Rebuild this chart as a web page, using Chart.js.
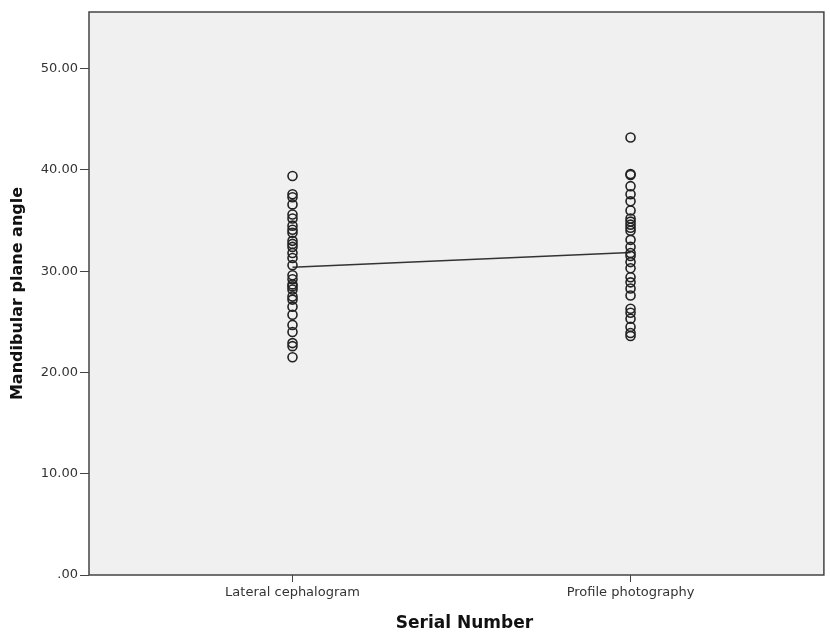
<!DOCTYPE html>
<html>
<head>
<meta charset="utf-8">
<script src="https://cdn.jsdelivr.net/npm/chart.js@4"></script>
<style>
  html, body { margin: 0; padding: 0; background: #ffffff; }
  #wrap { width: 830px; height: 633px; }
</style>
</head>
<body>
<div id="wrap"><canvas id="grafico"></canvas></div>
<script>
// categorias e valores
const categorias = ["Lateral cephalogram", "Profile photography"];
const cefalograma = [39.4, 37.6, 37.3, 36.6, 35.6, 35.2, 34.5, 34.1, 33.8, 33.0, 32.7, 32.4, 31.8, 31.3,
    30.6, 29.6, 29.2, 28.7, 28.5, 28.2, 27.5, 27.2, 26.5, 25.7, 24.7, 24.0, 22.9, 22.6, 21.5];
const fotografia = [43.2, 39.6, 39.5, 38.4, 37.6, 36.9, 36.0, 35.2, 34.9, 34.6, 34.3, 34.0, 33.1, 32.4,
    31.8, 31.5, 30.9, 30.3, 29.4, 28.9, 28.3, 27.6, 26.3, 25.9, 25.3, 24.5, 23.9, 23.6];
const medias = [30.4, 31.85];
const ticksY = [0, 10, 20, 30, 40, 50];
const tituloX = "Serial Number";

const fonte = "'DejaVu Sans', sans-serif";

// fundo cinza, moldura da área do gráfico e título do eixo x
const fundoPlugin = {
    id: "fundo",
    beforeDraw(chart) {
        const { ctx, chartArea: a } = chart;
        ctx.save();
        ctx.fillStyle = "#f0f0f0";
        ctx.fillRect(a.left, a.top, a.right - a.left, a.bottom - a.top);
        ctx.restore();
    },
    afterDraw(chart) {
        const { ctx, chartArea: a } = chart;
        ctx.save();
        ctx.strokeStyle = "#444";
        ctx.lineWidth = 1.5;
        ctx.strokeRect(a.left, a.top, a.right - a.left, a.bottom - a.top);
        // título do eixo x, um pouco à direita do centro como no original
        ctx.fillStyle = "#111";
        ctx.font = "bold 17px " + fonte;
        ctx.textAlign = "center";
        ctx.textBaseline = "middle";
        ctx.fillText(tituloX, (a.left + a.right) / 2 + 8, a.bottom + 49);
        ctx.restore();
    }
};

const pontos = [];
cefalograma.forEach(v => pontos.push({ x: 1, y: v }));
fotografia.forEach(v => pontos.push({ x: 2, y: v }));

const ctx = document.getElementById("grafico").getContext("2d");
new Chart(ctx, {
    type: "scatter",
    data: {
        datasets: [{
            data: medias.map((m, i) => ({ x: i + 1, y: m })),
            showLine: true,
            borderColor: "#333",
            borderWidth: 1.5,
            pointRadius: 0,
            order: 2
        }, {
            data: pontos,
            pointRadius: 4.5,
            pointBorderWidth: 1.6,
            pointBorderColor: "#222",
            pointBackgroundColor: "rgba(0,0,0,0)",
            order: 1
        }]
    },
    options: {
        responsive: true,
        maintainAspectRatio: false,
        animation: false,
        layout: { padding: { top: 12, right: 4, left: 8, bottom: 0 } },
        plugins: {
            legend: { display: false },
            tooltip: { enabled: false }
        },
        scales: {
            x: {
                type: "linear",
                min: 0.398,
                max: 2.572,
                afterBuildTicks(axis) { axis.ticks = [{ value: 1 }, { value: 2 }]; },
                afterFit(axis) { axis.height = 58; },
                grid: { drawOnChartArea: false, tickLength: 7, color: "#444", lineWidth: 1 },
                border: { display: false },
                ticks: {
                    callback: v => categorias[v - 1],
                    color: "#333",
                    font: { family: fonte, size: 13 },
                    padding: 3
                },
                title: { display: false }
            },
            y: {
                min: 0,
                max: 55.6,
                afterBuildTicks(axis) { axis.ticks = ticksY.map(v => ({ value: v })); },
                afterFit(axis) { axis.width = 81; },
                grid: { drawOnChartArea: false, tickLength: 9, color: "#444", lineWidth: 1 },
                border: { display: false },
                ticks: {
                    callback: v => v === 0 ? ".00" : v.toFixed(2),
                    color: "#333",
                    font: { family: fonte, size: 13 },
                    padding: 2
                },
                title: {
                    display: true,
                    text: "Mandibular plane angle",
                    color: "#111",
                    font: { family: fonte, size: 16, weight: "bold" },
                    padding: { top: 0, bottom: 4 }
                }
            }
        }
    },
    plugins: [fundoPlugin]
});
</script>
</body>
</html>
